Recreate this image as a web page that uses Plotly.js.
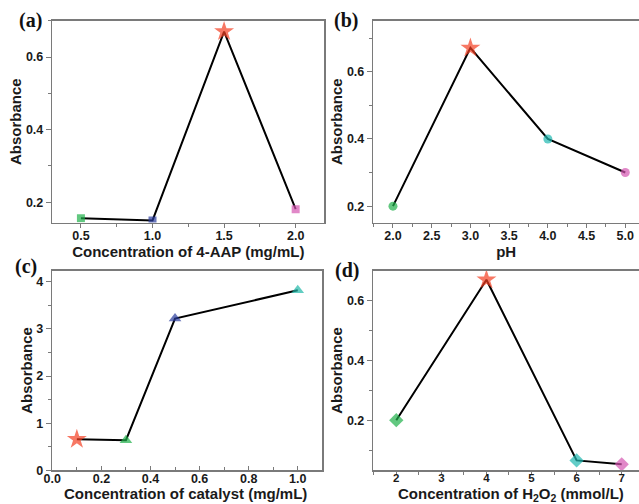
<!DOCTYPE html>
<html>
<head>
<meta charset="utf-8">
<script src="https://cdn.plot.ly/plotly-3.0.1.min.js"></script>
<style>html,body{margin:0;padding:0;background:#fff;}#chart{width:639px;height:504px;}</style>
</head>
<body>
<div id="chart"></div>
<script>
// Panel (a): concentration of 4-AAP
const aX = [0.5, 1.0, 1.5, 2.0];
const aY = [0.156, 0.150, 0.670, 0.181];
const aSymbols = ['square', 'square', 'star', 'square'];
const aColors = ['#1fb04a', '#2a3c9c', '#f43e22', '#d455b0'];

// Panel (b): pH
const bX = [2.0, 3.0, 4.0, 5.0];
const bY = [0.200, 0.671, 0.400, 0.300];
const bSymbols = ['circle', 'star', 'circle', 'circle'];
const bColors = ['#1fb04a', '#f43e22', '#20b8b0', '#d455b0'];

// Panel (c): concentration of catalyst
const cX = [0.1, 0.3, 0.5, 1.0];
const cY = [0.66, 0.64, 3.22, 3.82];
const cSymbols = ['star', 'triangle-up', 'triangle-up', 'triangle-up'];
const cColors = ['#f43e22', '#1fb04a', '#2a3c9c', '#20b8a8'];

// Panel (d): concentration of H2O2
const dX = [2, 4, 6, 7];
const dY = [0.200, 0.668, 0.066, 0.053];
const dSymbols = ['diamond', 'star', 'diamond', 'diamond'];
const dColors = ['#1fb04a', '#f43e22', '#20b8b0', '#d455b0'];

const titles = {
  ax: 'Concentration of 4-AAP (mg/mL)',
  bx: 'pH',
  cx: 'Concentration of catalyst (mg/mL)',
  dx: 'Concentration of H<sub>2</sub>O<sub>2</sub> (mmol/L)',
  y: 'Absorbance'
};
const panelLabels = ['(a)', '(b)', '(c)', '(d)'];

function sizes(symbols) {
  return symbols.map(s => s === 'star' ? 15 : (s === 'square' ? 8 : (s === 'circle' ? 9 : 11)));
}
function trace(x, y, sym, col, xa, ya) {
  return {
    x: x, y: y, xaxis: xa, yaxis: ya, type: 'scatter', mode: 'lines+markers',
    line: {color: '#000', width: 2},
    marker: {symbol: sym, color: col, size: sizes(sym), line: {width: 0}},
    showlegend: false, hoverinfo: 'x+y'
  };
}

const data = [
  trace(aX, aY, aSymbols, aColors, 'x', 'y'),
  trace(bX, bY, bSymbols, bColors, 'x2', 'y2'),
  trace(cX, cY, cSymbols, cColors, 'x3', 'y3'),
  trace(dX, dY, dSymbols, dColors, 'x4', 'y4')
];

const W = 639, H = 504;
const tickFont = {family: 'Liberation Sans, Arial, sans-serif', size: 12.5, color: '#1a1a1a', weight: 'bold'};
const tickFontSmall = Object.assign({}, tickFont, {size: 11.5});
const titleFont = {family: 'Liberation Sans, Arial, sans-serif', size: 15, color: '#1a1a1a', weight: 'bold'};
const lineColor = '#7a7a7a';

function axis(opts) {
  return Object.assign({
    showline: true, linecolor: lineColor, linewidth: 1.5, mirror: true,
    showgrid: false, zeroline: false,
    ticks: 'outside', ticklen: 5, tickwidth: 1, tickcolor: lineColor,
    tickfont: tickFont, fixedrange: true,
  }, opts);
}
function minor(dt, dir) {
  return {dtick: dt, tick0: 0, ticks: dir || 'outside', ticklen: 3, tickcolor: lineColor};
}

const topDom = [1 - 222.6 / H, 1 - 20.7 / H];
const botDom = [1 - 470.3 / H, 1 - 270.5 / H];
const leftDom = [52.3 / W, 324.3 / W];
const leftDomC = [52.3 / W, 322.3 / W];
const rightDom = [373.3 / W, 1];

const layout = {
  width: W, height: H,
  margin: {l: 0, r: 0, t: 0, b: 0},
  paper_bgcolor: '#fff', plot_bgcolor: '#fff',
  showlegend: false,
  xaxis: axis({domain: leftDom, anchor: 'y', range: [0.3, 2.2], tick0: 0.5, dtick: 0.5, tickformat: '.1f',
    ticklen: 4, ticklabelstandoff: -3, minor: minor(0.25),
    title: {text: titles.ax, font: titleFont, standoff: 0}}),
  yaxis: axis({domain: topDom, anchor: 'x', range: [0.144, 0.70], tick0: 0.2, dtick: 0.2, tickformat: '.1f',
    minor: minor(0.1),
    title: {text: titles.y, font: titleFont, standoff: 0}}),
  xaxis2: axis({domain: rightDom, anchor: 'y2', range: [1.746, 5.177], tick0: 2, dtick: 0.5, tickformat: '.1f',
    ticklen: 4, ticklabelstandoff: -3, minor: minor(0.25),
    title: {text: titles.bx, font: titleFont, standoff: 0}}),
  yaxis2: axis({domain: topDom, anchor: 'x2', range: [0.151, 0.752], tick0: 0.2, dtick: 0.2, tickformat: '.1f', mirror: false,
    minor: minor(0.1),
    title: {text: titles.y, font: titleFont, standoff: 0}}),
  xaxis3: axis({domain: leftDomC, anchor: 'y3', range: [0, 1.1], tick0: 0, dtick: 0.2, tickformat: '.1f',
    ticks: 'inside', ticklen: 4, ticklabelstandoff: -4, minor: minor(0.1, 'inside')}),
  yaxis3: axis({domain: botDom, anchor: 'x3', range: [0, 4.24], tick0: 0, dtick: 1, tickformat: 'd',
    minor: minor(0.5),
    title: {text: titles.y, font: titleFont, standoff: 0}}),
  xaxis4: axis({domain: rightDom, anchor: 'y4', range: [1.49, 7.384], tick0: 2, dtick: 1, tickformat: 'd',
    ticklen: 3, ticklabelstandoff: -7, tickfont: tickFontSmall, minor: minor(0.5)}),
  yaxis4: axis({domain: botDom, anchor: 'x4', range: [0.033, 0.699], tick0: 0.2, dtick: 0.2, tickformat: '.1f', mirror: false,
    minor: minor(0.1),
    title: {text: titles.y, font: titleFont, standoff: 0}}),
  annotations: [
    {text: panelLabels[0], x: 30 / W, y: 1 - 20.5 / H},
    {text: panelLabels[1], x: 346 / W, y: 1 - 20.5 / H},
    {text: panelLabels[2], x: 26 / W, y: 1 - 266 / H},
    {text: panelLabels[3], x: 347 / W, y: 1 - 270 / H}
  ].map(a => Object.assign(a, {
    xref: 'paper', yref: 'paper', xanchor: 'center', yanchor: 'middle', showarrow: false,
    font: {family: 'Liberation Serif, Times New Roman, serif', size: 20, color: '#111', weight: 'bold'}
  })).concat([
    {text: titles.cx, x: 185 / W, y: 1 - 493 / H},
    {text: titles.dx, x: 511 / W, y: 1 - 494.5 / H}
  ].map(a => Object.assign(a, {
    xref: 'paper', yref: 'paper', xanchor: 'center', yanchor: 'middle', showarrow: false,
    font: titleFont
  })))
};

Plotly.newPlot('chart', data, layout, {displayModeBar: false, staticPlot: true});
</script>
</body>
</html>
